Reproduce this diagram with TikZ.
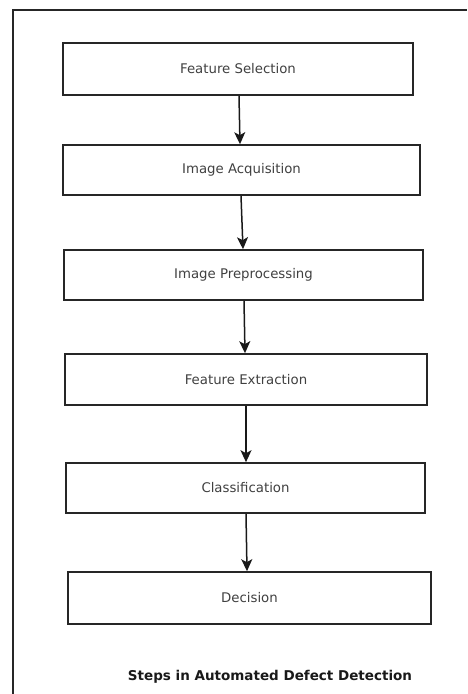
\documentclass[tikz,border=0pt]{standalone}
\usepackage{fontspec}
\setmainfont{DejaVu Sans}
\usetikzlibrary{arrows.meta}
\begin{document}
\begin{tikzpicture}[x=1pt,y=-1pt,
  stepbox/.style={draw=black!85, line width=1.6pt, rectangle, inner sep=0pt,
    font=\fontsize{13.3}{15}\selectfont, text=black!75},
  flow/.style={draw=black!90, line width=1.5pt, -{Stealth[length=12pt,width=11pt,inset=3pt]}}]
\useasboundingbox (0,0) rectangle (467,694);
\draw[line width=1.6pt, black!85] (13,694) -- (13,10) -- (467,10);
\node[stepbox, minimum width=350pt, minimum height=52pt] (b1) at (238,69) {Feature Selection};
\node[stepbox, minimum width=357pt, minimum height=50pt] (b2) at (241.5,170) {Image Acquisition};
\node[stepbox, minimum width=359pt, minimum height=50pt] (b3) at (243.5,275) {Image Preprocessing};
\node[stepbox, minimum width=362pt, minimum height=51pt] (b4) at (246,379.5) {Feature Extraction};
\node[stepbox, minimum width=359pt, minimum height=50pt] (b5) at (245.5,488) {Classification};
\node[stepbox, minimum width=363pt, minimum height=52pt] (b6) at (249.5,598) {Decision};
\draw[flow] ([xshift=1pt]b1.south) -- ([xshift=-1.5pt]b2.north);
\draw[flow] ([xshift=-0.5pt]b2.south) -- ([xshift=-0.5pt]b3.north);
\draw[flow] ([xshift=0.5pt]b3.south) -- ([xshift=-1pt]b4.north);
\draw[flow] (b4.south) -- ([xshift=0.5pt]b5.north);
\draw[flow] ([xshift=0.5pt]b5.south) -- ([xshift=-2.5pt]b6.north);
\node[font=\bfseries\fontsize{13.5}{15}\selectfont, text=black!90] (cap) at (270,677) {Steps in Automated Defect Detection};
\end{tikzpicture}
\end{document}
